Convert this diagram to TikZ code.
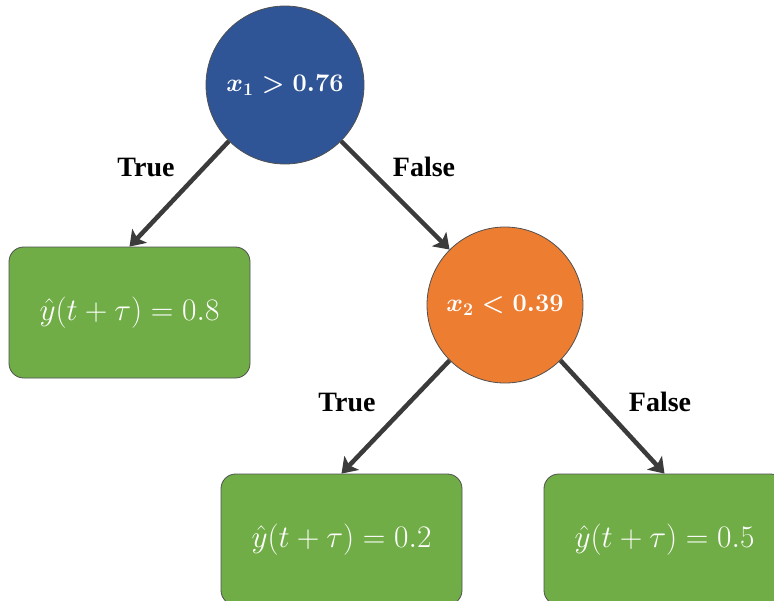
\RequirePackage{fix-cm}
\documentclass[tikz,border=0pt]{standalone}
\usepackage{fontspec}
\newfontfamily\labelfont{Liberation Serif}
\usetikzlibrary{arrows.meta}
\definecolor{nodeblue}{HTML}{2F5597}
\definecolor{nodeorange}{HTML}{ED7D31}
\definecolor{leafgreen}{HTML}{70AD47}
\definecolor{arrowgray}{HTML}{3B3B3B}
\definecolor{edgegray}{HTML}{505050}
\begin{document}
\begin{tikzpicture}[x=0.75pt,y=-0.75pt,
  split/.style={circle, draw=edgegray, line width=0.6pt, inner sep=0pt, text=white,
    font=\fontsize{19}{22}\selectfont\boldmath},
  leaf/.style={rectangle, rounded corners=11pt, draw=edgegray, line width=0.6pt, fill=leafgreen,
    minimum width=180.75pt, minimum height=98.25pt, text=white,
    font=\fontsize{23.5}{27}\selectfont},
  branch/.style={draw=arrowgray, line width=3.4pt,
    -{Stealth[length=11pt,width=15pt,inset=2.5pt]}},
  lbl/.style={font=\labelfont\bfseries\fontsize{21}{24}\selectfont, inner sep=0pt}
]
\useasboundingbox (0,0) rectangle (774,600);

\node[split, fill=nodeblue, minimum size=118.5pt] (root) at (285,85) {$x_1 > 0.76$};
\node[split, fill=nodeorange, minimum size=117pt] (mid) at (505,305) {$x_2 < 0.39$};
\node[leaf] (leafA) at (129.5,312.5) {$\hat{y}(t+\tau) = 0.8$};
\node[leaf] (leafB) at (341.5,539.5) {$\hat{y}(t+\tau) = 0.2$};
\node[leaf] (leafC) at (664.5,539.5) {$\hat{y}(t+\tau) = 0.5$};

\draw[branch] (root.-135) -- (leafA.north);
\draw[branch] (root.-45) -- (mid.135);
\draw[branch] (mid.-135) -- (leafB.north);
\draw[branch] (mid.-45) -- (leafC.north);

\node[lbl] (t1) at (146,167) {True};
\node[lbl] (f1) at (424,167) {False};
\node[lbl] (t2) at (347,402) {True};
\node[lbl] (f2) at (660,402) {False};
\end{tikzpicture}
\end{document}
